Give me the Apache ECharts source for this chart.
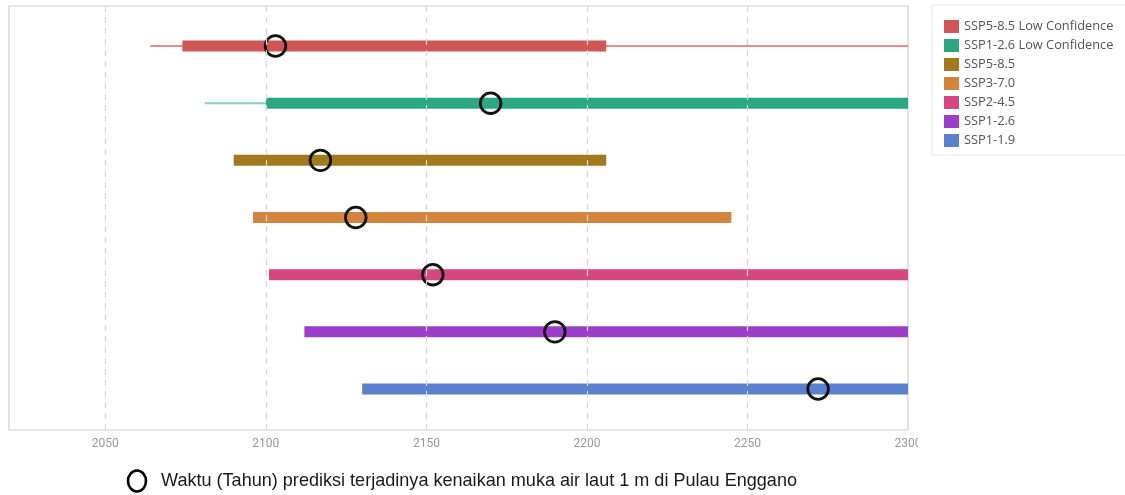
<!DOCTYPE html>
<html>
<head>
<meta charset="utf-8">
<style>
  html, body { margin: 0; padding: 0; background: #fff; }
  #chart { width: 1125px; height: 495px; }
</style>
<script src="https://cdn.jsdelivr.net/npm/echarts@6/dist/echarts.min.js"></script>
</head>
<body>
<div id="chart"></div>
<script>
// Scenarios, top row first
const scenarios = ['SSP5-8.5 Low Confidence', 'SSP1-2.6 Low Confidence', 'SSP5-8.5', 'SSP3-7.0', 'SSP2-4.5', 'SSP1-2.6', 'SSP1-1.9'];
const colors = ['#d05656', '#2ca880', '#a07a1c', '#d3853f', '#d5477f', '#9b3fca', '#5a80d0'];
const thinColors = ['#e68e8e', '#85d3bb', null, null, null, null, null];
// Thin whisker (low-confidence range), in years
const lineFrom = [2064, 2081, null, null, null, null, null];
const lineTo   = [2300, 2100, null, null, null, null, null];
// Thick bar (likely range), in years
const barFrom = [2074, 2100, 2090, 2096, 2101, 2112, 2130];
const barTo   = [2206, 2300, 2206, 2245, 2300, 2300, 2300];
// Year at which 1 m of sea-level rise is reached
const marker = [2103, 2170, 2117, 2128, 2152, 2190, 2272];
// Year axis
const yearMin = 2020, yearMax = 2300;
const yearTicks = [2050, 2100, 2150, 2200, 2250, 2300];
const gridYears = [2050, 2100, 2150, 2200, 2250];
const noteText = 'Waktu (Tahun) prediksi terjadinya kenaikan muka air laut 1 m di Pulau Enggano';

function renderRow(params, api) {
  const row = api.value(0);
  const lf = api.value(1), lt = api.value(2);
  const bf = api.value(3), bt = api.value(4);
  const mk = api.value(5);
  const i = params.seriesIndex;
  const children = [];
  if (!isNaN(lf) && !isNaN(lt) && lf !== null) {
    const a = api.coord([lf, row]);
    const b = api.coord([lt, row]);
    children.push({
      type: 'line',
      shape: { x1: a[0], y1: a[1], x2: b[0], y2: b[1] },
      style: { stroke: thinColors[i], lineWidth: 2 }
    });
  }
  const p = api.coord([bf, row]);
  const q = api.coord([bt, row]);
  const h = 11;
  children.push({
    type: 'rect',
    shape: { x: p[0], y: p[1] - h / 2, width: q[0] - p[0], height: h },
    style: { fill: colors[i] }
  });
  const m = api.coord([mk, row]);
  children.push({
    type: 'circle',
    shape: { cx: m[0], cy: m[1], r: 10.3 },
    style: { fill: 'none', stroke: '#111', lineWidth: 2.8 }
  });
  return { type: 'group', children: children };
}

const series = scenarios.map((name, i) => ({
  type: 'custom',
  name: name,
  itemStyle: { color: colors[i] },
  renderItem: renderRow,
  clip: true,
  encode: { x: [1, 2, 3, 4, 5], y: 0 },
  data: [[i, lineFrom[i] === null ? '-' : lineFrom[i], lineTo[i] === null ? '-' : lineTo[i], barFrom[i], barTo[i], marker[i]]],
  z: 3
}));

// Dashed vertical grid lines
series.push({
  type: 'custom',
  name: '_grid',
  renderItem: () => null,
  data: [],
  z: 1,
  markLine: {
    silent: true,
    symbol: ['none', 'none'],
    label: { show: false },
    lineStyle: { color: '#d6d6d6', type: [6, 5], width: 1.2 },
    data: gridYears.map(v => ({ xAxis: v }))
  }
});

// Caption under the chart: a condensed look, stretched to its line length
const noteFont = '19px "Liberation Sans", Arial, sans-serif';
const measureCtx = document.createElement('canvas').getContext('2d');
measureCtx.font = noteFont;
const noteScale = 636 / measureCtx.measureText(noteText).width;

const chart = echarts.init(document.getElementById('chart'));
chart.setOption({
  animation: false,
  backgroundColor: '#fff',
  grid: {
    left: 9, right: 217, top: 6, bottom: 65,
    show: true, borderColor: '#cfcfcf', borderWidth: 1.2, backgroundColor: 'transparent'
  },
  xAxis: {
    type: 'value',
    min: yearMin, max: yearMax,
    axisLine: { show: false },
    axisTick: { show: false },
    splitLine: { show: false },
    axisLabel: {
      customValues: yearTicks,
      formatter: v => String(v),
      color: '#999', fontSize: 12, fontFamily: 'Roboto', margin: 8,
      hideOverlap: false, showMinLabel: true, showMaxLabel: true
    }
  },
  yAxis: {
    type: 'value',
    inverse: true,
    min: -0.7, max: 6.717,
    show: false,
    splitLine: { show: false }
  },
  legend: {
    data: scenarios,
    orient: 'vertical',
    left: 932, top: 5,
    icon: 'rect',
    itemWidth: 15, itemHeight: 13, itemGap: 6,
    padding: [15, 20, 8, 12],
    backgroundColor: '#fff',
    borderColor: '#e4e4e4', borderWidth: 1,
    textStyle: { fontFamily: 'Open Sans', fontSize: 12.8, color: '#555' }
  },
  graphic: [
    { type: 'rect', left: 918, top: 434, shape: { width: 14, height: 20 }, style: { fill: '#fff' }, z: 100 },
    { type: 'ellipse', shape: { cx: 137, cy: 481, rx: 9, ry: 10.5 }, style: { fill: 'none', stroke: '#000', lineWidth: 2.6 }, z: 100 },
    { type: 'text', x: 161, y: 481, scaleX: noteScale, style: { text: noteText, fill: '#1a1a1a', font: noteFont, verticalAlign: 'middle' }, z: 100 }
  ],
  series: series
});
</script>
</body>
</html>
